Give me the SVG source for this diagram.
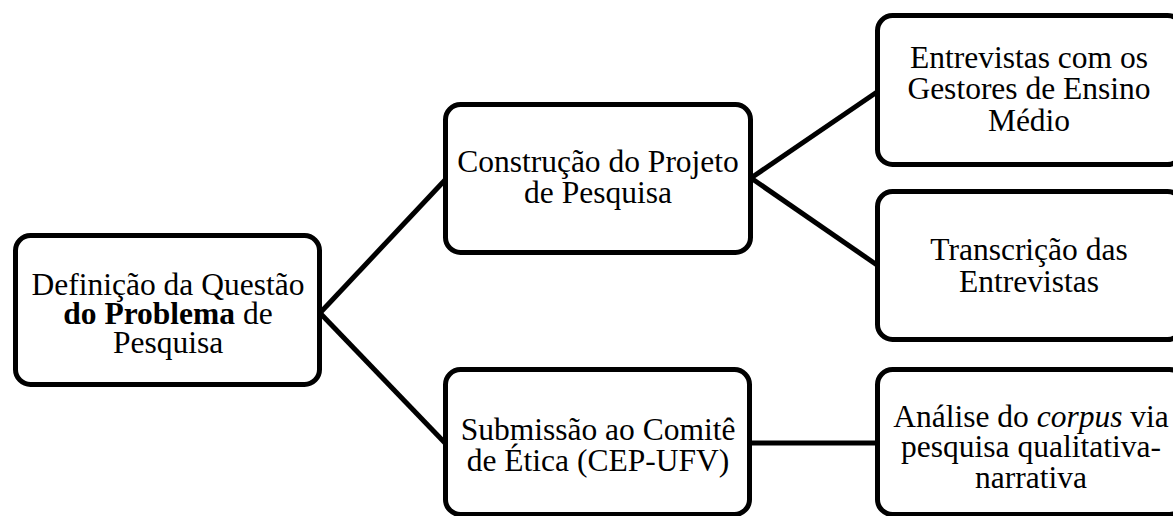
<svg xmlns="http://www.w3.org/2000/svg" width="1173" height="516" viewBox="0 0 1173 516">
<style>
.box{fill:#ffffff;stroke:#000000;stroke-width:5}
.lnk{stroke:#000000;stroke-width:5;fill:none}
text{font-family:"Liberation Serif","Times New Roman",serif;font-size:31.5px;fill:#000000;text-anchor:middle}
.b{font-weight:bold}
.i{font-style:italic}
</style>
<rect width="1173" height="516" fill="#ffffff"/>
<g id="connectors">
<line class="lnk" x1="320" y1="313" x2="445" y2="180"/>
<line class="lnk" x1="320" y1="313" x2="445" y2="443"/>
<line class="lnk" x1="751" y1="178" x2="877" y2="92"/>
<line class="lnk" x1="751" y1="178" x2="877" y2="265"/>
<line class="lnk" x1="750" y1="443" x2="877" y2="443"/>
</g>
<g id="n1">
<rect class="box" x="15.5" y="235.5" width="304" height="149" rx="15"/>
<text x="168" y="295">Definição da Questão</text>
<text x="168" y="324"><tspan class="b">do Problema</tspan> de</text>
<text x="168" y="353">Pesquisa</text>
</g>
<g id="n2">
<rect class="box" x="445.5" y="104.5" width="305" height="148" rx="15"/>
<text x="598" y="172">Construção do Projeto</text>
<text x="598" y="203">de Pesquisa</text>
</g>
<g id="n3">
<rect class="box" x="877.5" y="15.5" width="305" height="149" rx="15"/>
<text x="1029" y="68">Entrevistas com os</text>
<text x="1029" y="99">Gestores de Ensino</text>
<text x="1029" y="131">Médio</text>
</g>
<g id="n4">
<rect class="box" x="877.5" y="191.5" width="305" height="148" rx="15"/>
<text x="1029" y="260">Transcrição das</text>
<text x="1029" y="292">Entrevistas</text>
</g>
<g id="n5">
<rect class="box" x="445.5" y="369.5" width="304" height="145" rx="15"/>
<text x="598" y="440">Submissão ao Comitê</text>
<text x="598" y="471">de Ética (CEP-UFV)</text>
</g>
<g id="n6">
<rect class="box" x="877.5" y="369.5" width="307" height="145" rx="15"/>
<text x="1031" y="427">Análise do <tspan class="i">corpus</tspan> via</text>
<text x="1031" y="457">pesquisa qualitativa-</text>
<text x="1031" y="488">narrativa</text>
</g>
</svg>
